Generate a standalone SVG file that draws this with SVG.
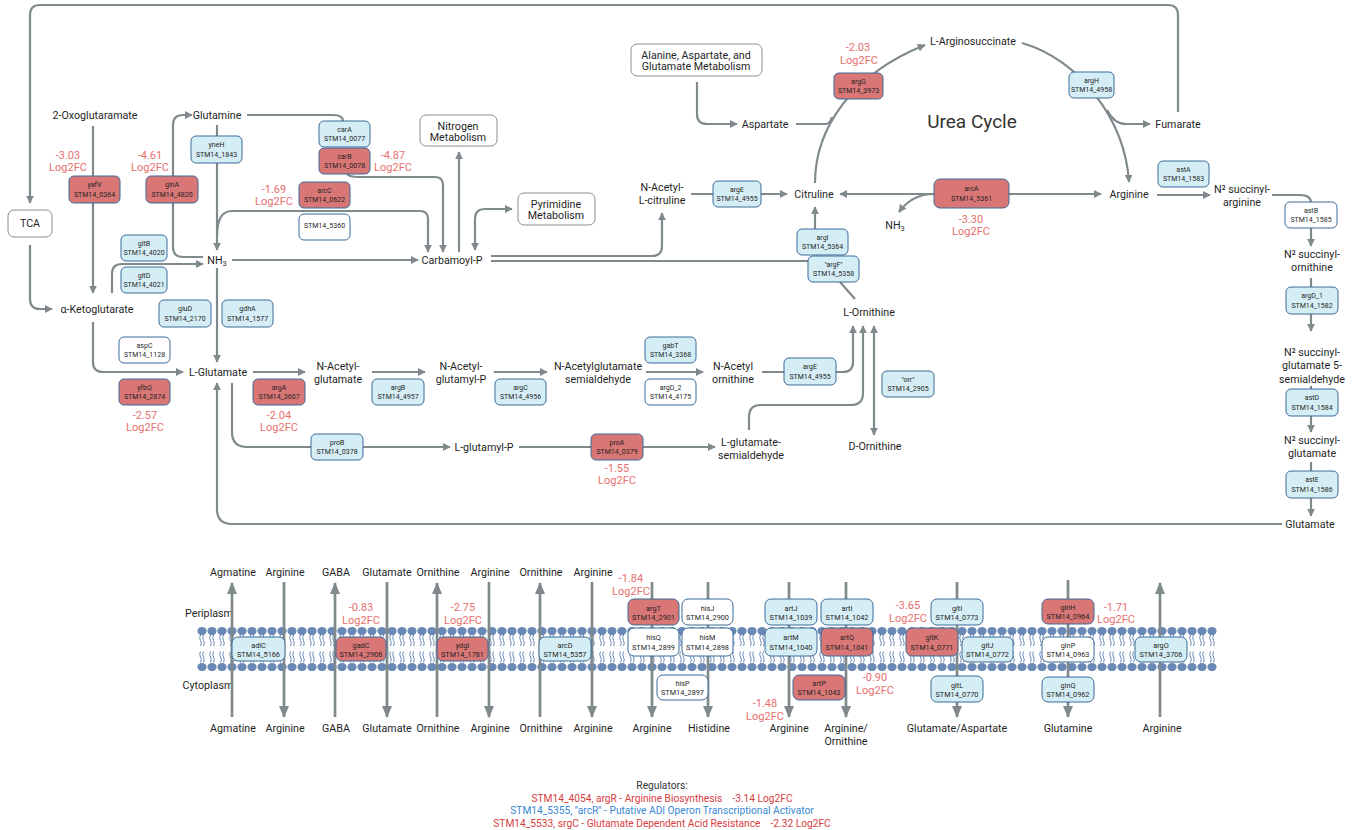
<svg xmlns="http://www.w3.org/2000/svg" width="1357" height="830" viewBox="0 0 1357 830">
<defs>
<style>
text{font-family:Roboto,"Liberation Sans",sans-serif;text-anchor:middle;dominant-baseline:central;fill:#1f1f1f}
.t{font-size:10.7px}
.u{font-size:19px;fill:#333}
.g{font-size:7px}
.gm{font-size:7.3px}
.fc{font-size:11px;fill:#e8706e}
.bx{fill:#d5eef5;stroke:#3d6c99;stroke-width:1}
.rd{fill:#d97777;stroke:#3d6c99;stroke-width:1}
.wh{fill:#fff;stroke:#3d6c99;stroke-width:1}
.mb{fill:#fff;stroke:#8c8c8c;stroke-width:1}
.c path,.c line{fill:none;stroke:#808a8d;stroke-width:2.2}
.c .a{marker-end:url(#ah)}
.c .d{marker-start:url(#ah);marker-end:url(#ah)}
.c .m{stroke-width:2.7;marker-end:url(#bh)}
.reg{font-size:10.2px;white-space:pre}
</style>
<marker id="ah" viewBox="0 0 10 10" refX="9" refY="5" markerWidth="8" markerHeight="8" markerUnits="userSpaceOnUse" orient="auto-start-reverse"><path d="M0,0L10,5L0,10z" fill="#808a8d"/></marker>
<marker id="bh" viewBox="0 0 12 10" refX="11" refY="5" markerWidth="12" markerHeight="10" markerUnits="userSpaceOnUse" orient="auto"><path d="M0,0L12,5L0,10z" fill="#808a8d"/></marker>
<pattern id="mem" x="197" y="626" width="10" height="46" patternUnits="userSpaceOnUse">
<path d="M3.5,9q-1.6,2.8 0,5.5t0,5.5M6.5,9q-1.6,2.8 0,5.5t0,5.5M3.5,25.5q-1.6,2.8 0,5.5t0,5.5M6.5,25.5q-1.6,2.8 0,5.5t0,5.5" fill="none" stroke="#6a88b5" stroke-width="1"/>
<ellipse cx="5" cy="5" rx="4.6" ry="4.1" fill="#6a88b5"/>
<ellipse cx="5" cy="41" rx="4.6" ry="4.1" fill="#6a88b5"/>
</pattern>
</defs>
<rect width="1357" height="830" fill="#fff"/>

<g id="membrane">
<rect x="197" y="626" width="1020" height="46" fill="url(#mem)"/>
<text class="t" x="209" y="613">Periplasm</text>
<text class="t" x="208" y="685">Cytoplasm</text>
</g>

<g id="connectors" class="c">
<path class="a" d="M1178,112L1178,15Q1178,5 1168,5L40,5Q30,5 30,15L30,203"/>
<path class="a" d="M30,245L30,299Q30,309 40,309L52,309"/>
<path class="a" d="M93,126L93,293"/>
<path class="a" d="M203,257L183,257Q173,257 173,247L173,125Q173,115 183,115L192,115"/>
<path class="a" d="M217,125L217,250"/>
<path d="M247,115L333,115Q343,115 343,121"/>
<path class="a" d="M347,174Q350,177 358,177L435,177Q443,177 443,185L443,252"/>
<path class="a" d="M217,236Q217,211 232,211L420,211Q428,211 428,219L428,252"/>
<path class="a" d="M232,260L418,260"/>
<path class="a" d="M112,293L112,274Q112,264 122,264L203,264"/>
<path class="a" d="M217,268L217,362"/>
<path class="a" d="M93,322L93,362Q93,372 103,372L183,372"/>
<path class="a" d="M253,372L305,372"/>
<path class="a" d="M372,372L425,372"/>
<path class="a" d="M494,372L547,372"/>
<path class="a" d="M646,372L703,372"/>
<path class="a" d="M762,372L843,372Q853,372 853,362L853,326"/>
<path class="a" d="M749,430L749,417Q749,405 761,405L851,405Q863,405 863,393L863,326"/>
<path class="d" d="M874,326L874,435"/>
<path class="a" d="M232,383L232,432Q232,447 247,447L450,447"/>
<path class="a" d="M519,447L715,447"/>
<path class="a" d="M1282,524L232,524Q217,524 217,509L217,383"/>
<path class="a" d="M459,252L459,152"/>
<path class="d" d="M475,250L475,219Q475,209 485,209L512,209"/>
<path class="a" d="M491,256L652,256Q662,256 662,246L662,213"/>
<path d="M491,261L808,261"/>
<path class="a" d="M691,194L787,194"/>
<path class="a" d="M697,82L697,114Q697,124 707,124L737,124"/>
<path d="M796,124L826,124Q830,124 832,117"/>
<path class="a" d="M815,183C815,130 850,75 925,45"/>
<path class="a" d="M1022,43C1080,60 1125,120 1129,182"/>
<path class="a" d="M1107,110Q1114,124 1126,124L1150,124"/>
<path class="a" d="M934,194L840,194"/>
<path class="a" d="M1009,194L1101,194"/>
<path class="a" d="M934,194Q912,194 899,212"/>
<path class="a" d="M815,229L815,207"/>
<path d="M855,299L840,282"/>
<path class="a" d="M1157,195L1210,195"/>
<path d="M1272,195L1300,195Q1311,195 1311,203"/>
<path class="a" d="M1311,228L1311,246"/>
<path d="M1311,278L1311,287"/>
<path class="a" d="M1311,314L1311,331"/>
<path d="M1311,386L1311,389"/>
<path class="a" d="M1311,416L1311,432"/>
<path d="M1311,462L1311,471"/>
<path class="a" d="M1311,498L1311,516"/>
<path class="m" d="M232,717L232,583"/>
<path class="m" d="M284,582L284,717"/>
<path class="m" d="M335,717L335,583"/>
<path class="m" d="M387,582L387,717"/>
<path class="m" d="M437,717L437,583"/>
<path class="m" d="M489,582L489,717"/>
<path class="m" d="M540,717L540,583"/>
<path class="m" d="M592,582L592,717"/>
<path class="m" d="M652,582L652,717"/>
<path class="m" d="M708,582L708,717"/>
<path class="m" d="M789,582L789,717"/>
<path class="m" d="M846,582L846,717"/>
<path class="m" d="M957,582L957,717"/>
<path class="m" d="M1068,580L1068,717"/>
<path class="m" d="M1160,717L1160,583"/>
</g>

<g id="metabolites">
<text class="t" x="95" y="115">2-Oxoglutaramate</text>
<text class="t" x="217" y="115">Glutamine</text>
<text class="t" x="217" y="260">NH<tspan font-size="7.5" dy="3">3</tspan></text>
<text class="t" x="452" y="260">Carbamoyl-P</text>
<text class="t" x="97" y="309">α-Ketoglutarate</text>
<text class="t" x="218" y="372">L-Glutamate</text>
<text class="t" x="338" y="366">N-Acetyl-</text><text class="t" x="338" y="379">glutamate</text>
<text class="t" x="461" y="366">N-Acetyl-</text><text class="t" x="461" y="379">glutamyl-P</text>
<text class="t" x="598" y="366">N-Acetylglutamate</text><text class="t" x="598" y="379">semialdehyde</text>
<text class="t" x="733" y="366">N-Acetyl</text><text class="t" x="733" y="379">ornithine</text>
<text class="t" x="484" y="447">L-glutamyl-P</text>
<text class="t" x="751" y="442">L-glutamate-</text><text class="t" x="751" y="455">semialdehyde</text>
<text class="t" x="869" y="312">L-Ornithine</text>
<text class="t" x="875" y="446">D-Ornithine</text>
<text class="t" x="662" y="187">N-Acetyl-</text><text class="t" x="662" y="200">L-citruline</text>
<text class="t" x="814" y="194">Citruline</text>
<text class="t" x="765" y="124">Aspartate</text>
<text class="t" x="973" y="41">L-Arginosuccinate</text>
<text class="t" x="1178" y="124">Fumarate</text>
<text class="t" x="1129" y="194">Arginine</text>
<text class="t" x="895" y="225">NH<tspan font-size="7.5" dy="3">3</tspan></text>
<text class="u" x="972" y="121">Urea Cycle</text>
<text class="t" x="1242" y="189">N² succinyl-</text><text class="t" x="1242" y="202">arginine</text>
<text class="t" x="1312" y="254">N² succinyl-</text><text class="t" x="1312" y="267">ornithine</text>
<text class="t" x="1312" y="352">N² succinyl-</text><text class="t" x="1312" y="365">glutamate 5-</text><text class="t" x="1312" y="379">semialdehyde</text>
<text class="t" x="1312" y="440">N² succinyl-</text><text class="t" x="1312" y="453">glutamate</text>
<text class="t" x="1310" y="524">Glutamate</text>
</g>

<g id="TCA"><rect class="mb" x="8" y="210" width="44" height="27" rx="6"/><text class="t" x="30" y="223">TCA</text></g>
<g id="nitrogen"><rect class="mb" x="420" y="115" width="77" height="31" rx="6"/><text class="t" x="458" y="126">Nitrogen</text><text class="t" x="458" y="137">Metabolism</text></g>
<g id="pyrimidine"><rect class="mb" x="518" y="193" width="77" height="32" rx="6"/><text class="t" x="556" y="204">Pyrimidine</text><text class="t" x="556" y="215">Metabolism</text></g>
<g id="alanine"><rect class="mb" x="631" y="44" width="131" height="32" rx="6"/><text class="t" x="696" y="55">Alanine, Aspartate, and</text><text class="t" x="696" y="66">Glutamate Metabolism</text></g>

<g id="yafV"><rect class="rd" x="69" y="176" width="51" height="27" rx="5"/><text class="g" x="94.5" y="185">yafV</text><text class="g" x="94.5" y="195">STM14_0364</text></g>
<g id="glnA"><rect class="rd" x="146" y="176" width="52" height="27" rx="5"/><text class="g" x="172" y="185">glnA</text><text class="g" x="172" y="195">STM14_4820</text></g>
<g id="yneH"><rect class="bx" x="191" y="136" width="51" height="27" rx="5"/><text class="g" x="216.5" y="145">yneH</text><text class="g" x="216.5" y="155">STM14_1843</text></g>
<g id="carA"><rect class="bx" x="319" y="121" width="51" height="26" rx="5"/><text class="g" x="344.5" y="130">carA</text><text class="g" x="344.5" y="139">STM14_0077</text></g>
<g id="carB"><rect class="rd" x="319" y="148" width="51" height="26" rx="5"/><text class="g" x="344.5" y="157">carB</text><text class="g" x="344.5" y="166">STM14_0078</text></g>
<g id="arcC"><rect class="rd" x="299" y="182" width="51" height="26" rx="5"/><text class="g" x="324.5" y="191">arcC</text><text class="g" x="324.5" y="200">STM14_0622</text></g>
<g id="STM14_5360"><rect class="wh" x="299" y="214" width="51" height="26" rx="5"/><text class="g" x="324.5" y="226">STM14_5360</text></g>
<g id="gltB"><rect class="bx" x="121" y="235" width="46" height="26" rx="5"/><text class="g" x="144" y="244">gltB</text><text class="g" x="144" y="253">STM14_4020</text></g>
<g id="gltD"><rect class="bx" x="121" y="267" width="46" height="26" rx="5"/><text class="g" x="144" y="276">gltD</text><text class="g" x="144" y="285">STM14_4021</text></g>
<g id="gluD"><rect class="bx" x="159" y="300" width="52" height="27" rx="5"/><text class="g" x="185" y="309">gluD</text><text class="g" x="185" y="319">STM14_2170</text></g>
<g id="gdhA"><rect class="bx" x="222" y="300" width="51" height="27" rx="5"/><text class="g" x="247.5" y="309">gdhA</text><text class="g" x="247.5" y="319">STM14_1577</text></g>
<g id="aspC"><rect class="wh" x="119" y="337" width="51" height="26" rx="5"/><text class="g" x="144.5" y="346">aspC</text><text class="g" x="144.5" y="355">STM14_1128</text></g>
<g id="yfbQ"><rect class="rd" x="119" y="379" width="51" height="26" rx="5"/><text class="g" x="144.5" y="388">yfbQ</text><text class="g" x="144.5" y="397">STM14_2874</text></g>
<g id="argA"><rect class="rd" x="253" y="379" width="52" height="26" rx="5"/><text class="g" x="279" y="388">argA</text><text class="g" x="279" y="397">STM14_3607</text></g>
<g id="argB"><rect class="bx" x="372" y="379" width="52" height="26" rx="5"/><text class="g" x="398" y="388">argB</text><text class="g" x="398" y="397">STM14_4957</text></g>
<g id="argC"><rect class="bx" x="495" y="379" width="51" height="26" rx="5"/><text class="g" x="520.5" y="388">argC</text><text class="g" x="520.5" y="397">STM14_4956</text></g>
<g id="gabT"><rect class="bx" x="645" y="337" width="51" height="26" rx="5"/><text class="g" x="670.5" y="346">gabT</text><text class="g" x="670.5" y="355">STM14_3368</text></g>
<g id="argD_2"><rect class="wh" x="645" y="379" width="51" height="26" rx="5"/><text class="g" x="670.5" y="388">argD_2</text><text class="g" x="670.5" y="397">STM14_4175</text></g>
<g id="argE_b"><rect class="bx" x="784" y="358" width="52" height="27" rx="5"/><text class="g" x="810" y="367">argE</text><text class="g" x="810" y="377">STM14_4955</text></g>
<g id="proB"><rect class="bx" x="311" y="434" width="52" height="26" rx="5"/><text class="g" x="337" y="443">proB</text><text class="g" x="337" y="452">STM14_0378</text></g>
<g id="proA"><rect class="rd" x="591" y="434" width="52" height="26" rx="5"/><text class="g" x="617" y="443">proA</text><text class="g" x="617" y="452">STM14_0379</text></g>
<g id="argE_a"><rect class="bx" x="713" y="181" width="48" height="26" rx="5"/><text class="g" x="737" y="190">argE</text><text class="g" x="737" y="199">STM14_4955</text></g>
<g id="argI"><rect class="bx" x="797" y="229" width="51" height="26" rx="5"/><text class="g" x="822.5" y="238">argI</text><text class="g" x="822.5" y="247">STM14_5364</text></g>
<g id="argF"><rect class="bx" x="808" y="256" width="51" height="26" rx="5"/><text class="g" x="833.5" y="265">"argF"</text><text class="g" x="833.5" y="274">STM14_5358</text></g>
<g id="orr"><rect class="bx" x="882" y="371" width="52" height="26" rx="5"/><text class="g" x="908" y="380">"orr"</text><text class="g" x="908" y="389">STM14_2905</text></g>
<g id="argG"><rect class="rd" x="834" y="73" width="49" height="26" rx="5"/><text class="g" x="858.5" y="82">argG</text><text class="g" x="858.5" y="91">STM14_3973</text></g>
<g id="argH"><rect class="bx" x="1069" y="72" width="45" height="26" rx="5"/><text class="g" x="1091.5" y="81">argH</text><text class="g" x="1091.5" y="90">STM14_4958</text></g>
<g id="arcA"><rect class="rd" x="934" y="179" width="75" height="29" rx="6"/><text class="g" x="971.5" y="189">arcA</text><text class="g" x="971.5" y="199">STM14_5361</text></g>
<g id="astA"><rect class="bx" x="1158" y="161" width="51" height="26" rx="5"/><text class="g" x="1183.5" y="170">astA</text><text class="g" x="1183.5" y="179">STM14_1583</text></g>
<g id="astB"><rect class="wh" x="1285" y="202" width="52" height="26" rx="5"/><text class="g" x="1311" y="211">astB</text><text class="g" x="1311" y="220">STM14_1585</text></g>
<g id="argD_1"><rect class="bx" x="1286" y="287" width="52" height="27" rx="5"/><text class="g" x="1312" y="296">argD_1</text><text class="g" x="1312" y="306">STM14_1582</text></g>
<g id="astD"><rect class="bx" x="1286" y="389" width="52" height="27" rx="5"/><text class="g" x="1312" y="398">astD</text><text class="g" x="1312" y="408">STM14_1584</text></g>
<g id="astE"><rect class="bx" x="1286" y="471" width="52" height="27" rx="5"/><text class="g" x="1312" y="480">astE</text><text class="g" x="1312" y="490">STM14_1586</text></g>

<g id="fc-top">
<text class="fc" x="68" y="155">-3.03</text><text class="fc" x="68" y="167">Log2FC</text>
<text class="fc" x="150" y="155">-4.61</text><text class="fc" x="150" y="167">Log2FC</text>
<text class="fc" x="393" y="155">-4.87</text><text class="fc" x="393" y="167">Log2FC</text>
<text class="fc" x="274" y="189">-1.69</text><text class="fc" x="274" y="201">Log2FC</text>
<text class="fc" x="858" y="47">-2.03</text><text class="fc" x="859" y="60">Log2FC</text>
<text class="fc" x="971" y="219">-3.30</text><text class="fc" x="971" y="231">Log2FC</text>
<text class="fc" x="145" y="415">-2.57</text><text class="fc" x="145" y="427">Log2FC</text>
<text class="fc" x="279" y="415">-2.04</text><text class="fc" x="279" y="427">Log2FC</text>
<text class="fc" x="617" y="468">-1.55</text><text class="fc" x="617" y="480">Log2FC</text>
</g>

<g id="adiC"><rect class="bx" x="232" y="637" width="53" height="24" rx="6"/><text class="gm" x="258.5" y="645">adiC</text><text class="gm" x="258.5" y="654">STM14_5166</text></g>
<g id="gadC"><rect class="rd" x="336" y="637" width="50" height="24" rx="6"/><text class="gm" x="361" y="645">gadC</text><text class="gm" x="361" y="654">STM14_2906</text></g>
<g id="ydgI"><rect class="rd" x="437" y="637" width="51" height="24" rx="6"/><text class="gm" x="462.5" y="645">ydgI</text><text class="gm" x="462.5" y="654">STM14_1781</text></g>
<g id="arcD"><rect class="bx" x="539" y="637" width="52" height="24" rx="6"/><text class="gm" x="565" y="645">arcD</text><text class="gm" x="565" y="654">STM14_5357</text></g>
<g id="argT"><rect class="rd" x="628" y="599" width="51" height="26" rx="6"/><text class="gm" x="653.5" y="608">argT</text><text class="gm" x="653.5" y="617">STM14_2901</text></g>
<g id="hisJ"><rect class="wh" x="682" y="599" width="51" height="26" rx="6"/><text class="gm" x="707.5" y="608">hisJ</text><text class="gm" x="707.5" y="617">STM14_2900</text></g>
<g id="hisQ"><rect class="wh" x="628" y="628" width="51" height="28" rx="6"/><text class="gm" x="653.5" y="637">hisQ</text><text class="gm" x="653.5" y="647">STM14_2899</text></g>
<g id="hisM"><rect class="wh" x="682" y="628" width="51" height="28" rx="6"/><text class="gm" x="707.5" y="637">hisM</text><text class="gm" x="707.5" y="647">STM14_2898</text></g>
<g id="hisP"><rect class="wh" x="657" y="675" width="51" height="25" rx="6"/><text class="gm" x="682.5" y="683">hisP</text><text class="gm" x="682.5" y="692">STM14_2897</text></g>
<g id="artJ"><rect class="bx" x="765" y="599" width="52" height="26" rx="6"/><text class="gm" x="791" y="608">artJ</text><text class="gm" x="791" y="617">STM14_1039</text></g>
<g id="artM"><rect class="bx" x="765" y="628" width="52" height="28" rx="6"/><text class="gm" x="791" y="637">artM</text><text class="gm" x="791" y="647">STM14_1040</text></g>
<g id="artP"><rect class="rd" x="793" y="675" width="52" height="25" rx="6"/><text class="gm" x="819" y="683">artP</text><text class="gm" x="819" y="692">STM14_1043</text></g>
<g id="artI"><rect class="bx" x="821" y="599" width="52" height="26" rx="6"/><text class="gm" x="847" y="608">artI</text><text class="gm" x="847" y="617">STM14_1042</text></g>
<g id="artQ"><rect class="rd" x="821" y="628" width="52" height="28" rx="6"/><text class="gm" x="847" y="637">artQ</text><text class="gm" x="847" y="647">STM14_1041</text></g>
<g id="gltI"><rect class="bx" x="931" y="599" width="52" height="26" rx="6"/><text class="gm" x="957" y="608">gltI</text><text class="gm" x="957" y="617">STM14_0773</text></g>
<g id="gltK"><rect class="rd" x="906" y="628" width="52" height="28" rx="6"/><text class="gm" x="932" y="637">gltK</text><text class="gm" x="932" y="647">STM14_0771</text></g>
<g id="gltJ"><rect class="bx" x="962" y="637" width="51" height="25" rx="6"/><text class="gm" x="987.5" y="645">gltJ</text><text class="gm" x="987.5" y="654">STM14_0772</text></g>
<g id="gltL"><rect class="bx" x="931" y="676" width="52" height="26" rx="6"/><text class="gm" x="957" y="685">gltL</text><text class="gm" x="957" y="694">STM14_0770</text></g>
<g id="glnH"><rect class="rd" x="1042" y="599" width="52" height="25" rx="6"/><text class="gm" x="1068" y="607">glnH</text><text class="gm" x="1068" y="616">STM14_0964</text></g>
<g id="glnP"><rect class="wh" x="1042" y="637" width="52" height="25" rx="6"/><text class="gm" x="1068" y="645">glnP</text><text class="gm" x="1068" y="654">STM14_0963</text></g>
<g id="glnQ"><rect class="bx" x="1042" y="677" width="52" height="25" rx="6"/><text class="gm" x="1068" y="685">glnQ</text><text class="gm" x="1068" y="694">STM14_0962</text></g>
<g id="argO"><rect class="bx" x="1135" y="637" width="52" height="25" rx="6"/><text class="gm" x="1161" y="645">argO</text><text class="gm" x="1161" y="654">STM14_3706</text></g>

<g id="fc-membrane">
<text class="fc" x="361" y="607">-0.83</text><text class="fc" x="361" y="620">Log2FC</text>
<text class="fc" x="463" y="607">-2.75</text><text class="fc" x="463" y="620">Log2FC</text>
<text class="fc" x="631" y="578">-1.84</text><text class="fc" x="631" y="591">Log2FC</text>
<text class="fc" x="765" y="703">-1.48</text><text class="fc" x="765" y="716">Log2FC</text>
<text class="fc" x="875" y="677">-0.90</text><text class="fc" x="875" y="690">Log2FC</text>
<text class="fc" x="908" y="605">-3.65</text><text class="fc" x="908" y="618">Log2FC</text>
<text class="fc" x="1116" y="607">-1.71</text><text class="fc" x="1116" y="619">Log2FC</text>
</g>

<g id="transport-labels">
<text class="t" x="233" y="572">Agmatine</text>
<text class="t" x="285" y="572">Arginine</text>
<text class="t" x="336" y="572">GABA</text>
<text class="t" x="387" y="572">Glutamate</text>
<text class="t" x="438" y="572">Ornithine</text>
<text class="t" x="490" y="572">Arginine</text>
<text class="t" x="541" y="572">Ornithine</text>
<text class="t" x="593" y="572">Arginine</text>
<text class="t" x="233" y="728">Agmatine</text>
<text class="t" x="285" y="728">Arginine</text>
<text class="t" x="336" y="728">GABA</text>
<text class="t" x="387" y="728">Glutamate</text>
<text class="t" x="438" y="728">Ornithine</text>
<text class="t" x="490" y="728">Arginine</text>
<text class="t" x="541" y="728">Ornithine</text>
<text class="t" x="593" y="728">Arginine</text>
<text class="t" x="652" y="728">Arginine</text>
<text class="t" x="709" y="728">Histidine</text>
<text class="t" x="789" y="728">Arginine</text>
<text class="t" x="846" y="728">Arginine/</text><text class="t" x="846" y="741">Ornithine</text>
<text class="t" x="957" y="728">Glutamate/Aspartate</text>
<text class="t" x="1068" y="728">Glutamine</text>
<text class="t" x="1162" y="728">Arginine</text>
</g>

<g id="regulators">
<text class="reg" x="662" y="785" style="fill:#333">Regulators:</text>
<text class="reg" x="662" y="798" style="fill:#d8403e" xml:space="preserve">STM14_4054, argR - Arginine Biosynthesis    -3.14 Log2FC</text>
<text class="reg" x="662" y="810" style="fill:#3a88d4">STM14_5355, "arcR" - Putative ADI Operon Transcriptional Activator</text>
<text class="reg" x="662" y="823" style="fill:#d8403e" xml:space="preserve">STM14_5533, srgC - Glutamate Dependent Acid Resistance    -2.32 Log2FC</text>
</g>
</svg>
